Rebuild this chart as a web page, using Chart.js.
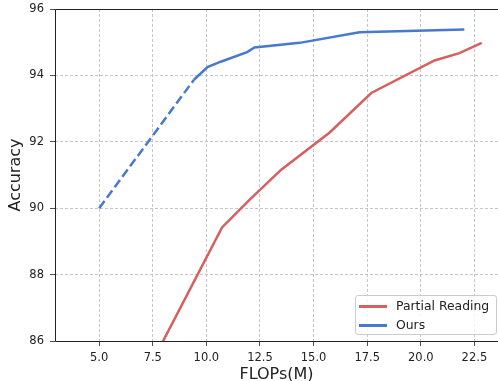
<!DOCTYPE html>
<html>
<head>
<meta charset="utf-8">
<script src="https://cdn.jsdelivr.net/npm/chart.js@4.4.0/dist/chart.umd.min.js"></script>
<style>
    html, body { margin: 0; padding: 0; background: #fff; }
    #wrap { position: relative; width: 498px; height: 381px; overflow: hidden; }
    #legend {
        position: absolute; left: 355px; top: 295px; width: 142px; height: 40px;
        border: 1px solid #cccccc; border-radius: 3px; background: rgba(255,255,255,0.8);
        font-family: "DejaVu Sans", sans-serif; font-size: 12.4px; color: #222;
        box-sizing: border-box;
    }
    .item { position: absolute; left: 3px; height: 14px; line-height: 14px; white-space: nowrap; }
    .item span.swatch { position: absolute; left: 0; top: 6px; width: 28px; height: 2.5px; }
    .item span.label { position: absolute; left: 37px; top: 0; }
</style>
</head>
<body>
<div id="wrap">
    <canvas id="chartCanvas" width="498" height="381"></canvas>
    <div id="legend">
        <div class="item" style="top:3px"><span class="swatch" style="background:#D65F5F"></span><span class="label">Partial Reading</span></div>
        <div class="item" style="top:22px"><span class="swatch" style="background:#4878CF"></span><span class="label">Ours</span></div>
    </div>
</div>
<script>
// FLOPs (M) vs accuracy
const partialFlops = [7.5, 10.73, 12.02, 13.49, 15.75, 17.69, 20.64, 21.8, 22.84];
const partialAcc   = [85.4, 89.42, 90.26, 91.16, 92.28, 93.47, 94.45, 94.67, 94.98];

// dashed (extrapolated) part of ours
const oursDashFlops = [5.0, 9.42];
const oursDashAcc   = [90.0, 93.87];

const oursFlops = [9.42, 10.05, 10.7, 11.9, 12.24, 14.35, 17.14, 22.03];
const oursAcc   = [93.87, 94.25, 94.42, 94.7, 94.84, 94.98, 95.30, 95.38];

const xTicks = [5.0, 7.5, 10.0, 12.5, 15.0, 17.5, 20.0, 22.5];
const yTicks = [86, 88, 90, 92, 94, 96];

const RED = '#D65F5F';
const BLUE = '#4878CF';

function toPoints(xs, ys) {
    return xs.map((x, i) => ({ x: x, y: ys[i] }));
}

// solid spines (left, bottom, top) like matplotlib's box
const spines = {
    id: 'spines',
    afterDraw(chart) {
        const { ctx, chartArea } = chart;
        const l = Math.round(chartArea.left) + 0.5;
        const t = Math.round(chartArea.top) + 0.5;
        const b = Math.round(chartArea.bottom) + 0.5;
        ctx.save();
        ctx.strokeStyle = '#222';
        ctx.lineWidth = 1;
        ctx.setLineDash([]);
        ctx.beginPath();
        ctx.moveTo(chartArea.right, t);
        ctx.lineTo(l, t);
        ctx.lineTo(l, b);
        ctx.lineTo(chartArea.right, b);
        ctx.stroke();
        ctx.restore();
    }
};

const gridStyle = {
    color: '#b8b8b8',
    lineWidth: 0.8,
    tickColor: '#222',
    tickLength: 5,
    tickBorderDash: []
};
const borderStyle = { display: false, dash: [3, 2] };

new Chart(document.getElementById('chartCanvas').getContext('2d'), {
    type: 'line',
    data: {
        datasets: [
            {
                label: 'Partial Reading',
                data: toPoints(partialFlops, partialAcc),
                borderColor: RED,
                borderWidth: 2.5,
                pointRadius: 0,
                tension: 0
            },
            {
                label: 'Ours (extrapolated)',
                data: toPoints(oursDashFlops, oursDashAcc),
                borderColor: BLUE,
                borderWidth: 2.5,
                borderDash: [9, 4],
                pointRadius: 0,
                tension: 0
            },
            {
                label: 'Ours',
                data: toPoints(oursFlops, oursAcc),
                borderColor: BLUE,
                borderWidth: 2.5,
                pointRadius: 0,
                tension: 0
            }
        ]
    },
    options: {
        responsive: false,
        animation: false,
        layout: { padding: { top: 9, right: 0, left: 0, bottom: 0 } },
        plugins: {
            legend: { display: false },
            tooltip: { enabled: false }
        },
        scales: {
            x: {
                type: 'linear',
                min: 2.94,
                max: 23.6,
                afterBuildTicks: (axis) => { axis.ticks = xTicks.map(v => ({ value: v })); },
                afterFit: (axis) => { axis.height = 40; axis.paddingRight = 0; },
                grid: gridStyle,
                border: borderStyle,
                ticks: {
                    padding: 5,
                    color: '#222',
                    font: { family: 'DejaVu Sans', size: 11.5 },
                    callback: (v) => Number(v).toFixed(1),
                    maxRotation: 0
                },
                title: {
                    display: true,
                    text: 'FLOPs(M)',
                    color: '#222',
                    font: { family: 'DejaVu Sans', size: 16 },
                    padding: { top: 0, bottom: -3 }
                }
            },
            y: {
                min: 86,
                max: 96,
                afterBuildTicks: (axis) => { axis.ticks = yTicks.map(v => ({ value: v })); },
                afterFit: (axis) => { axis.width = 55; axis.paddingTop = 0; axis.paddingBottom = 0; },
                grid: gridStyle,
                border: borderStyle,
                ticks: {
                    padding: 6,
                    color: '#222',
                    font: { family: 'DejaVu Sans', size: 11.5 }
                },
                title: {
                    display: true,
                    text: 'Accuracy',
                    color: '#222',
                    font: { family: 'DejaVu Sans', size: 16 },
                    padding: { top: 6, bottom: 0 }
                }
            }
        }
    },
    plugins: [spines]
});
</script>
</body>
</html>
